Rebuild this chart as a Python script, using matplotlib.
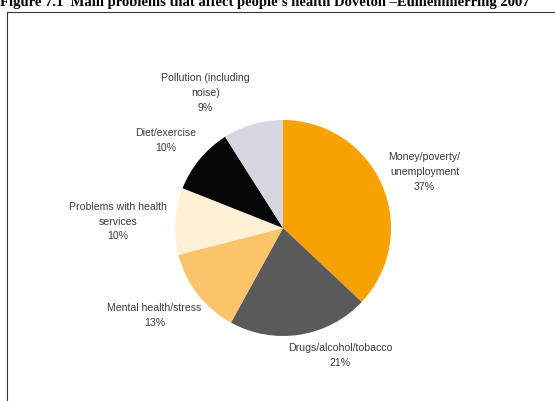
import matplotlib
matplotlib.use("Agg")
import matplotlib.pyplot as plt
from matplotlib.patches import Rectangle

categories = ["Money/poverty/\nunemployment", "Drugs/alcohol/tobacco", "Mental health/stress",
              "Problems with health\nservices", "Diet/exercise", "Pollution (including\nnoise)"]
values = [37, 21, 13, 10, 10, 9]
colors = ["#F7A200", "#5A5A5A", "#FBC46A", "#FFF0D6", "#050505", "#D6D6E2"]
label_pos = [(1.31, 0.52), (0.53, -1.18), (-1.19, -0.81), (-1.53, 0.06), (-1.09, 0.81), (-0.72, 1.25)]
title = "Figure 7.1  Main problems that affect people\u2019s health Doveton \u2013Eumemmerring 2007"

fig = plt.figure(figsize=(5.55, 4.01), dpi=100)
fig.patch.set_facecolor("white")

fig.text(0.0, 1.0 - 2.5/401, title, fontsize=10.5, fontweight="bold", family="Liberation Serif",
         ha="left", va="center", color="black")
fig.patches.append(Rectangle((7/555, -0.05), (560-7)/555, 1 - 12/401 + 0.05,
                             transform=fig.transFigure, fill=False, edgecolor="#333333",
                             linewidth=0.8))

ax = fig.add_axes([(283-108)/555, (401-336)/401, 216/555, 216/401])
wedges, _ = ax.pie(values, colors=colors, startangle=90, counterclock=False,
                   wedgeprops=dict(linewidth=0))
ax.set_xlim(-1, 1)
ax.set_ylim(-1, 1)
ax.set_aspect("equal")
ax.axis("off")

for cat, v, (x, y) in zip(categories, values, label_pos):
    ax.text(x, y, f"{cat}\n{v}%", ha="center", va="center", fontsize=7.6,
            family="Liberation Sans", color="#3a3a3a", linespacing=1.6, clip_on=False)

fig.savefig("out.png", dpi=100, facecolor="white")
